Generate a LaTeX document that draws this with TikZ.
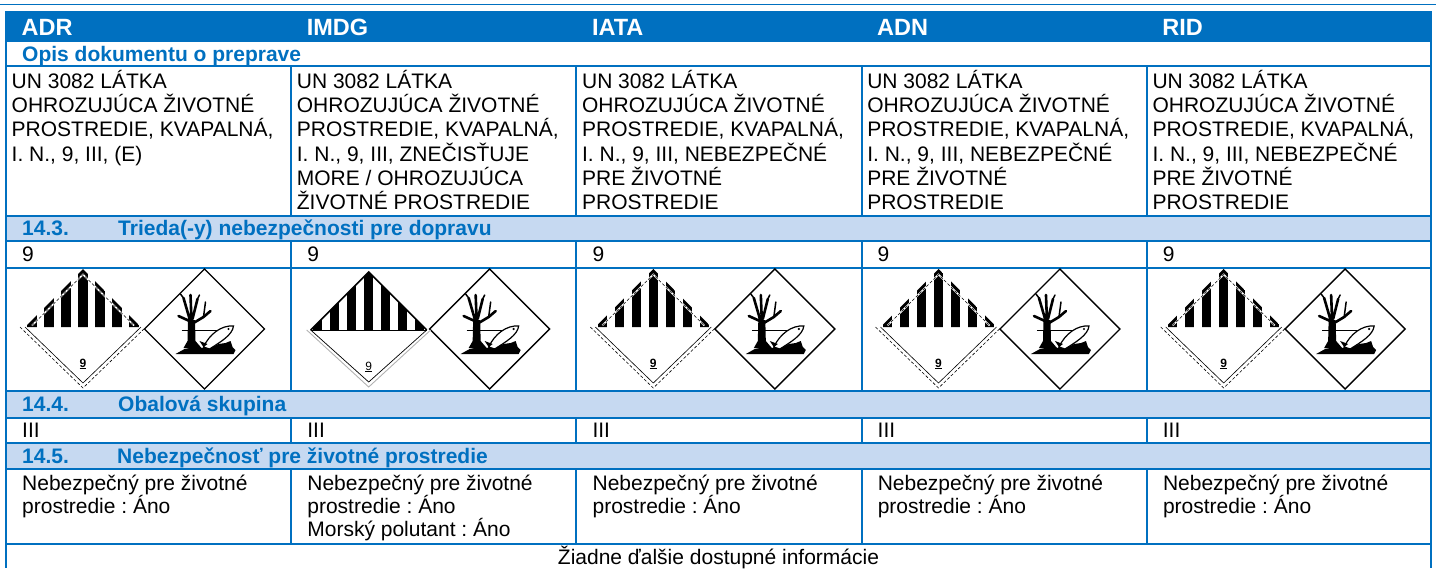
\documentclass[tikz,border=0pt]{standalone}
\usepackage{fontspec}
\setmainfont{Liberation Sans}
\frenchspacing
\definecolor{tblue}{HTML}{0070C0}
\definecolor{tlight}{HTML}{C6D9F1}

\newcommand\colw{285.16}
\newcommand\untxt{UN 3082 LÁTKA\\OHROZUJÚCA ŽIVOTNÉ\\PROSTREDIE, KVAPALNÁ,\\I. N., 9, III, }
\newcommand\envtxt{Nebezpečný pre životné\\prostredie : Áno}

\tikzset{
  tline/.style={draw=tblue, line width=1.8pt},
  hdrtext/.style={anchor=base west, inner sep=0, text=white, font=\fontsize{23.5}{28}\selectfont\bfseries},
  sectext/.style={anchor=base west, inner sep=0, text=tblue, font=\fontsize{21}{24}\selectfont\bfseries},
  celltext/.style={anchor=base west, inner sep=0, align=left, font=\fontsize{21}{24.3}\selectfont},
  envcell/.style={celltext, font=\fontsize{21}{23.3}\selectfont},
  dashline/.style={line width=0.6pt, dash pattern=on 3pt off 2pt},
  stripes/.pic={
    \begin{scope}
      \clip (-58,0) -- (0,-58) -- (58,0) -- cycle;
      \foreach \k in {-3,...,3} \fill (\k*17-4.6,1) rectangle (\k*17+4.6,-60);
    \end{scope}
  },
  classnine/.pic={
    \pic {stripes};
    \draw[white, line width=1.6pt] (-51,-1.5) -- (0,-52.5) -- (51,-1.5);
    \draw[dashline] (-51,-1.5) -- (0,-52.5) -- (51,-1.5);
    \draw[line width=0.6pt] (-58,0) -- (0,56) -- (58,0);
    \draw[dashline] (-63,0) -- (0,61) -- (63,0);
    \node[anchor=base, inner sep=0, font=\fontsize{12}{12}\selectfont\bfseries] (-num) at (0,40) {\underline{9}};
  },
  classninesea/.pic={
    \pic {stripes};
    \draw[line width=1.6pt] (-58,0) -- (0,-58) -- (58,0);
    \draw[line width=0.9pt] (-58,0) -- (58,0);
    \draw[line width=0.7pt] (-58,0) -- (0,52) -- (58,0);
    \draw[gray!60, line width=0.9pt] (-62,0) -- (0,57) -- (62,0);
    \node[anchor=base, inner sep=0, font=\fontsize{12}{12}\selectfont] (-num) at (0,40) {\underline{9}};
  },
  envhaz/.pic={
    \draw[line width=1.4pt] (-60,0) -- (0,-60) -- (60,0) -- (0,60) -- cycle;
    \fill (-21,19) -- (-17,12) -- (-16.5,-9) -- (-9.5,-9) -- (-9,12) -- (-3,19) -- cycle;
    \draw[line width=2.6pt, line cap=round] (-14,-7) -- (-21,-31) (-13,-8) -- (-14,-34) (-12,-10) -- (-7,-30)
      (-11,-6) -- (-1,-12) -- (6,-18) (-15,-8) -- (-26,-13);
    \draw[line width=1.5pt, line cap=round] (-21,-31) -- (-24,-35) (-7,-30) -- (-5,-34) (-1,-12) -- (1,-27);
    \draw[line width=0.8pt] (-23,1) -- (22,1);
    \fill (-29,25) -- (-20,20) -- (-10,18) -- (-2,19) -- (3,14) -- (8,18) -- (14,15) -- (21,14) -- (26,12)
      -- (28,18) -- (31,21) -- (29,25) -- cycle;
    \filldraw[fill=white, line width=1.2pt] (-1,18) .. controls (5,5) and (17,-4) .. (29,-3)
      .. controls (28,6) and (16,13) .. (5,20) -- cycle;
    \fill (-1,18) -- (-5,12) -- (3,15) -- cycle;
    \fill (24,0) circle (1.2);
  }
}

\begin{document}
\begin{tikzpicture}[x=1pt, y=-1pt]
\useasboundingbox (0,0) rectangle (1436,568);

\draw[tblue, line width=1.6pt] (0,4.5) -- (1436,4.5);
\fill[tblue] (5,11) rectangle (1431.8,42);
\fill[tlight] (6,216) rectangle (1431,241);
\fill[tlight] (6,391) rectangle (1431,418);
\fill[tlight] (6,443) rectangle (1431,469);

\foreach \y in {66,216,241,268,391,418,443,469,544}
  \draw[tline] (6,\y) -- (1431,\y);
\draw[tline] (6,42) -- (6,568);
\draw[tline] (1431,42) -- (1431,568);
\foreach \x in {291,576,862,1147} {
  \draw[tline] (\x,66) -- (\x,216);
  \draw[tline] (\x,241) -- (\x,391);
  \draw[tline] (\x,418) -- (\x,443);
  \draw[tline] (\x,469) -- (\x,544);
}

\foreach \i/\name in {0/ADR,1/IMDG,2/IATA,3/ADN,4/RID} {
  \pgfmathsetmacro\x{6+\i*\colw}
  \node[hdrtext] (hdr-\name) at (\x+15.5,35) {\name};
  \node[celltext] (cls-\name) at (\x+16,261.7) {9};
  \node[celltext] (grp-\name) at (\x+16,437.7) {III};
  \pic (env-\name) at (\x+198.5,329) {envhaz};
}

\node[sectext] (sec-opis) at (22,61.7) {Opis dokumentu o preprave};
\node[sectext] (sec-num3) at (22,235) {14.3.};
\node[sectext] (sec-trieda) at (118,235) {Trieda(-y) nebezpečnosti pre dopravu};
\node[sectext] (sec-num4) at (22,411.7) {14.4.};
\node[sectext] (sec-obal) at (118,411.7) {Obalová skupina};
\node[sectext] (sec-num5) at (22,463.3) {14.5.};
\node[sectext] (sec-nebez) at (117,463.3) {Nebezpečnosť pre životné prostredie};

% base anchor sits on the last line
\node[celltext] (opis-ADR) at (11.5,161.2) {\untxt(E)};
\node[celltext] (opis-IMDG) at (296.7,209.8) {\untxt ZNEČISŤUJE\\MORE / OHROZUJÚCA\\ŽIVOTNÉ PROSTREDIE};
\node[celltext] (opis-IATA) at (581.9,209.8) {\untxt NEBEZPEČNÉ\\PRE ŽIVOTNÉ\\PROSTREDIE};
\node[celltext] (opis-ADN) at (867.1,209.8) {\untxt NEBEZPEČNÉ\\PRE ŽIVOTNÉ\\PROSTREDIE};
\node[celltext] (opis-RID) at (1152.3,209.8) {\untxt NEBEZPEČNÉ\\PRE ŽIVOTNÉ\\PROSTREDIE};

\pic (nine-ADR) at (83,327) {classnine};
\pic (nine-IMDG) at (368.7,330) {classninesea};
\pic (nine-IATA) at (653.3,327) {classnine};
\pic (nine-ADN) at (938.5,327) {classnine};
\pic (nine-RID) at (1223.7,327) {classnine};

\node[envcell] (envtxt-ADR) at (22,513.3) {\envtxt};
\node[envcell] (envtxt-IMDG) at (307.2,536.6) {\envtxt\\Morský polutant : Áno};
\node[envcell] (envtxt-IATA) at (592.4,513.3) {\envtxt};
\node[envcell] (envtxt-ADN) at (877.6,513.3) {\envtxt};
\node[envcell] (envtxt-RID) at (1162.8,513.3) {\envtxt};

\node[anchor=base, inner sep=0, font=\fontsize{21}{24}\selectfont] (info) at (718.5,564) {Žiadne ďalšie dostupné informácie};
\end{tikzpicture}
\end{document}
